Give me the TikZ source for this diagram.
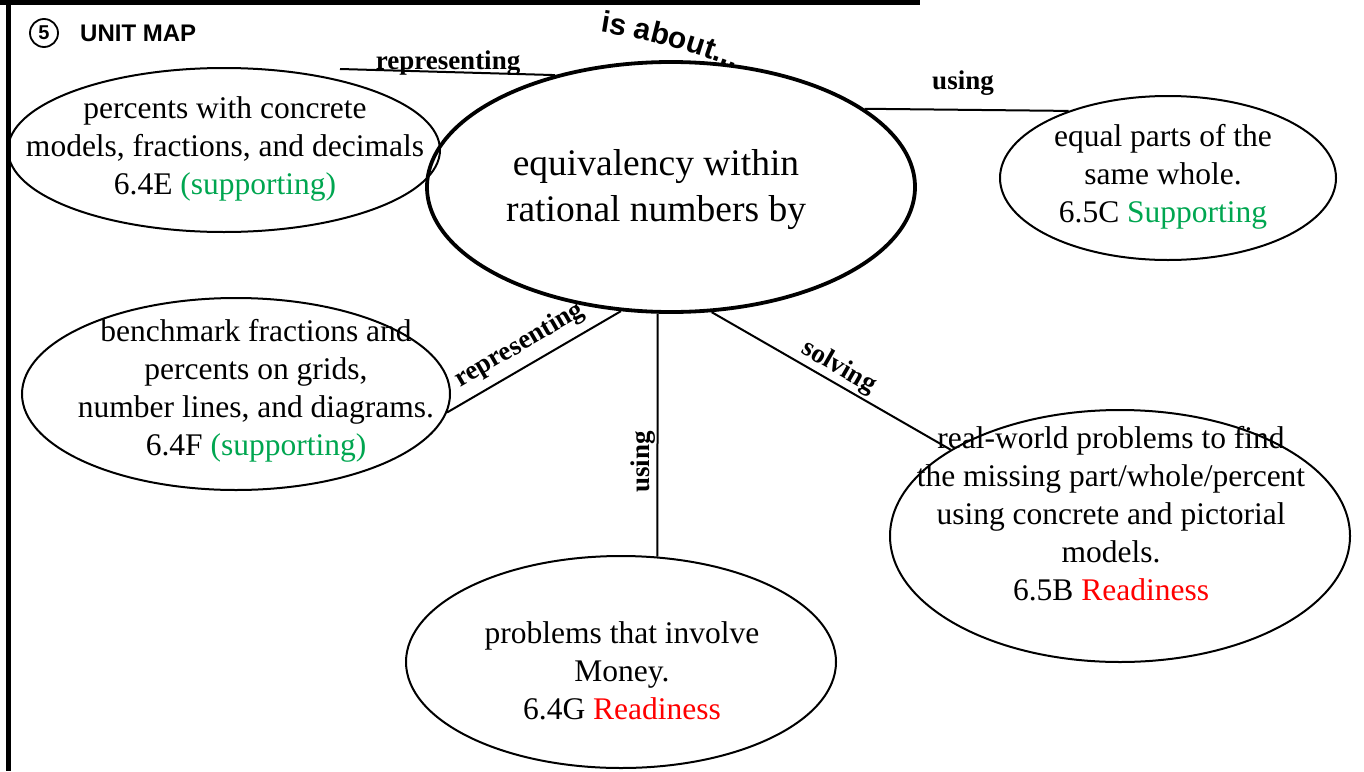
\documentclass[tikz,border=0pt]{standalone}
\usepackage{fontspec}
\setmainfont{Liberation Serif}
\setsansfont{Liberation Sans}
\usetikzlibrary{shapes.geometric,decorations.text}
\definecolor{sgreen}{RGB}{0,166,80}
\definecolor{rred}{RGB}{255,0,0}
\tikzset{
  ell/.style={draw, ellipse, line width=2pt, inner sep=0pt},
  bigell/.style={draw, ellipse, line width=3.8pt, inner sep=0pt},
  txt/.style={align=center, font=\fontsize{31.5}{38}\selectfont, inner sep=0pt},
  bigtxt/.style={align=center, font=\fontsize{37.5}{46}\selectfont, inner sep=0pt},
  conn/.style={line width=2pt},
  lab/.style={font=\bfseries\fontsize{27}{27}\selectfont, inner sep=2pt},
  frame/.style={line width=5pt}
}
\begin{document}
\begin{tikzpicture}[x=1pt,y=-1pt]
\useasboundingbox (0,0) rectangle (1364,771);
% frame
\coordinate (f1) at (0,2);
\coordinate (f2) at (920,2);
\coordinate (f3) at (8,0);
\coordinate (f4) at (8,771);
\draw[frame] (f1) -- (f2);
\draw[frame] (f3) -- (f4);
% header
\node[draw, circle, line width=1.8pt, minimum size=28pt, inner sep=0pt, font=\sffamily\bfseries\fontsize{20}{20}\selectfont] (num) at (44,33) {5};
\node[anchor=west, inner sep=0pt, font=\sffamily\bfseries\fontsize{24}{24}\selectfont] (title) at (80,33) {UNIT MAP};
% ellipses
\node[bigell, minimum width=488pt, minimum height=250pt] (M) at (671,187) {};
\node[bigtxt] (Mt) at (656,190) {equivalency within\\rational numbers by};
\node[ell, minimum width=432pt, minimum height=164pt] (A) at (224,150) {};
\node[txt] (At) at (225,149) {percents with concrete\\models, fractions, and decimals\\6.4E \textcolor{sgreen}{(supporting)}};
\node[ell, minimum width=336pt, minimum height=164pt] (B) at (1168,178) {};
\node[txt] (Bt) at (1163,177) {equal parts of the\\same whole.\\6.5C \textcolor{sgreen}{Supporting}};
\node[ell, minimum width=428pt, minimum height=192pt] (C) at (236,394) {};
\node[txt] (Ct) at (256,391) {benchmark fractions and\\percents on grids,\\number lines, and diagrams.\\6.4F \textcolor{sgreen}{(supporting)}};
\node[ell, minimum width=430pt, minimum height=212pt] (D) at (621,662) {};
\node[txt] (Dt) at (622,671) {problems that involve\\Money.\\6.4G \textcolor{rred}{Readiness}};
\node[ell, minimum width=460pt, minimum height=252pt] (E) at (1120,536) {};
\node[txt] (Et) at (1111,514) {real-world problems to find\\the missing part/whole/percent\\using concrete and pictorial\\models.\\6.5B \textcolor{rred}{Readiness}};
% curved label
\path[decorate, decoration={text along path, text align=left,
  text={|\sffamily\bfseries\fontsize{30}{30}\selectfont|is about...}}]
  (600,32) .. controls (650,40) and (700,52) .. (775,85);
% connectors
\coordinate (a1) at (340,69);
\draw[conn] (a1) -- (M.136);
\node[lab] (l1) at (448,63) {representing};
\draw[conn] (M.22) -- (B.146);
\node[lab] (l2) at (963,83) {using};
\draw[conn] (C.-5) -- node[lab, pos=0.48, above=6pt, sloped] (l3) {representing} (M.248);
\draw[conn] (M.264) -- (D.71);
\node[lab, rotate=90] (l4) at (643,462) {using};
\draw[conn] (M.288) -- node[lab, pos=0.5, above, sloped] (l5) {solving} (E.153);
\end{tikzpicture}
\end{document}
